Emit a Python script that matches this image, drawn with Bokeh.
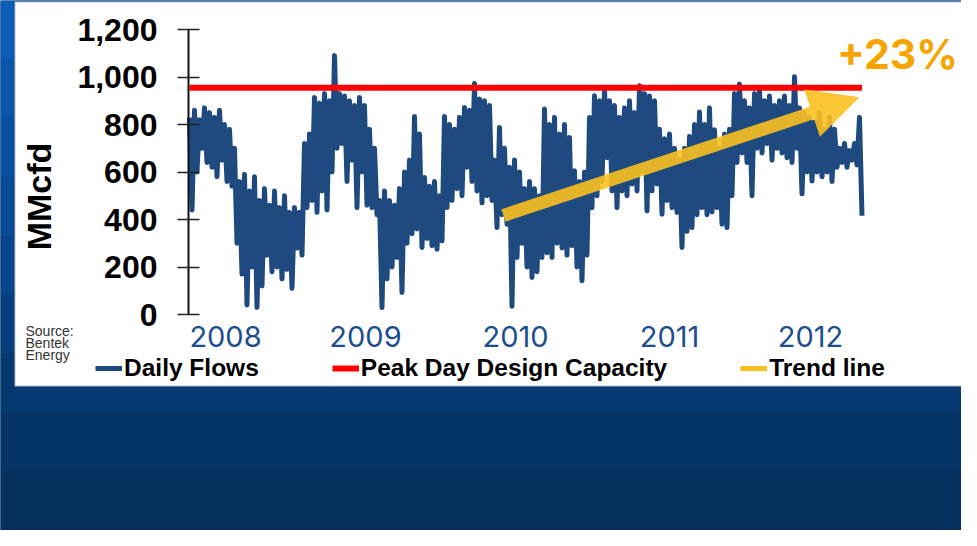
import numpy as np
from bokeh.plotting import figure
from bokeh.models import (Range1d, LinearAxis, FixedTicker, NumeralTickFormatter, Label,
                          Legend, LegendItem, Arrow, NormalHead, BoxAnnotation, ColumnDataSource)
from bokeh.embed import file_html
from bokeh.resources import INLINE

# ------------------------------------------------------------------ data
# Daily flows (MMcfd), read off the picture as alternating highs / lows
daily_flows = [
    830, 440, 860, 600, 820, 700, 870, 640, 850, 620,
    830, 580, 860, 650, 800, 560, 780, 540, 700, 300,
    560, 170, 590, 40, 520, 200, 580, 30, 480, 120,
    530, 250, 460, 180, 520, 200, 450, 150, 500, 190,
    430, 110, 450, 280, 430, 250, 720, 450, 760, 480,
    914, 430, 890, 520, 930, 440, 900, 600, 1090, 700,
    930, 720, 920, 560, 900, 650, 880, 450, 914, 600,
    880, 460, 780, 450, 700, 420, 480, 29, 520, 150,
    480, 200, 460, 240, 530, 93, 600, 300, 650, 340,
    834, 360, 760, 282, 577, 320, 540, 290, 560, 275,
    500, 310, 834, 450, 800, 480, 780, 530, 830, 500,
    872, 620, 860, 560, 973, 520, 907, 470, 900, 500,
    880, 480, 650, 366, 787, 420, 700, 380, 620, 35,
    651, 240, 600, 300, 530, 200, 560, 156, 530, 180,
    500, 240, 865, 260, 800, 240, 830, 300, 760, 280,
    800, 250, 745, 290, 605, 200, 560, 142, 600, 250,
    829, 450, 921, 500, 900, 560, 949, 660, 900, 520,
    880, 450, 830, 520, 870, 500, 900, 549, 850, 520,
    963, 600, 930, 436, 920, 520, 900, 550, 780, 422,
    740, 480, 760, 450, 700, 430, 650, 282, 700, 350,
    750, 366, 800, 420, 853, 450, 800, 420, 870, 432,
    778, 450, 700, 380, 760, 366, 780, 500, 930, 640,
    970, 680, 900, 640, 870, 500, 930, 700, 942, 680,
    900, 720, 920, 650, 880, 700, 900, 680, 920, 660,
    880, 640, 1001, 700, 870, 508, 850, 600, 830, 562,
    810, 600, 850, 580, 780, 600, 830, 560, 780, 620,
    700, 640, 720, 620, 690, 650, 720, 630, 830, 416,
]
capacity = 955                       # Peak Day Design Capacity
trend_x = [125.6, 268.0]             # sample index of trend start / arrow tip
trend_y = [417, 915]                 # MMcfd
trend_pct = "+23%"
year_labels = ["2008", "2009", "2010", "2011", "2012"]
y_ticks = [0, 200, 400, 600, 800, 1000, 1200]
series_names = ["Daily Flows", "Peak Day Design Capacity", "Trend line"]
source_lines = ["Source:", "Bentek", "Energy"]
y_title = "MMcfd"

# ------------------------------------------------------------------ layout helpers
W, H = 961, 530          # canvas (page has 8px margin)
OX, OY = 8, 8
X0, DX = 197, 2.5        # screen px of first sample, px per sample
Y0, YS = 322, 285 / 1200 # screen px of value 0, px per MMcfd


def vx(px):
    return (px - X0) / DX


def vy(py):
    return (Y0 - py) / YS


year_label_px = [233, 373, 523, 677, 818]

NAVY = "#1f4a80"
RED = "#ff0000"
YEL = "#f9c01f"
ORANGE = "#f7a400"

p = figure(width=W, height=H,
           x_range=Range1d(vx(OX), vx(OX + W)), y_range=Range1d(vy(OY + H), vy(OY)),
           output_backend="svg", toolbar_location=None,
           x_axis_location=None, y_axis_location=None, min_border=0,
           outline_line_color=None,
           background_fill_color="#06305c", border_fill_color="#06305c")
p.grid.visible = False

# background gradient (slide)
band_colors = ["#0b5cb4", "#0a56aa", "#0a50a0", "#094a95", "#08448a",
               "#073e7e", "#063972", "#053467", "#05305e"]
edges = np.linspace(OY, OY + H, len(band_colors) + 1)
for c, t, b in zip(band_colors, edges[:-1], edges[1:]):
    p.add_layout(BoxAnnotation(left=vx(OX) - 10, right=vx(OX + W) + 10, top=vy(t), bottom=vy(b),
                               fill_color=c, fill_alpha=1, line_color=None, level="underlay"))

# white chart panel
p.add_layout(BoxAnnotation(left=vx(22), right=vx(OX + W) + 10, top=vy(9), bottom=vy(394),
                           fill_color="white", fill_alpha=1, line_color="#0b2d5a",
                           line_width=2, level="underlay"))

# ------------------------------------------------------------------ series
xs = np.arange(len(daily_flows))
src = ColumnDataSource(dict(x=xs, y=daily_flows))
r_flow = p.line("x", "y", source=src, line_color=NAVY, line_width=5, line_join="round")
r_cap = p.line([xs[0], xs[-1]], [capacity, capacity], line_color=RED, line_width=6)

arrow = Arrow(x_start=trend_x[0], y_start=trend_y[0], x_end=trend_x[1], y_end=trend_y[1],
              line_color=YEL, line_width=13, line_alpha=0.9,
              end=NormalHead(size=50, fill_color=YEL, fill_alpha=0.9, line_color=None))
p.add_layout(arrow)
r_trend = p.line([np.nan, np.nan], [np.nan, np.nan], line_color=YEL, line_width=5)

p.add_layout(Label(x=vx(905), y=vy(61), text=trend_pct, text_font="Inter",
                   text_font_size="41px", text_font_style="bold", text_color=ORANGE,
                   text_align="center", text_baseline="middle"))

# ------------------------------------------------------------------ axes
yax = LinearAxis(fixed_location=vx(196), bounds=(0, 1200), ticker=FixedTicker(ticks=y_ticks),
                 formatter=NumeralTickFormatter(format="0,0"))
yax.axis_line_color = "#111111"
yax.axis_line_width = 2
yax.major_tick_line_color = "#222222"
yax.major_tick_line_width = 1.5
yax.major_tick_in = 11
yax.major_tick_out = 11
yax.minor_tick_line_color = None
yax.major_label_standoff = 20
yax.major_label_text_font = "Liberation Sans"
yax.major_label_text_font_size = "32px"
yax.major_label_text_font_style = "bold"
yax.major_label_text_color = "black"
p.add_layout(yax, "left")

year_ticks = [round(vx(px), 3) for px in year_label_px]
xax = LinearAxis(fixed_location=vy(322), ticker=FixedTicker(ticks=year_ticks),
                 major_label_overrides={t: lab for t, lab in zip(year_ticks, year_labels)})
xax.axis_line_color = None
xax.major_tick_line_color = None
xax.minor_tick_line_color = None
xax.major_label_standoff = 5
xax.major_label_text_font = "Inter"
xax.major_label_text_font_size = "29px"
xax.major_label_text_color = "#1d4e8e"
p.add_layout(xax, "below")

p.add_layout(Label(x=vx(46), y=vy(204), text=y_title, angle=np.pi / 2,
                   text_align="center", text_baseline="middle",
                   text_font="Liberation Sans", text_font_size="34px",
                   text_font_style="bold", text_color="black"))

for k, line in enumerate(source_lines):
    p.add_layout(Label(x=vx(33), y=vy(338 + 12 * k), text=line,
                       text_font="Liberation Sans", text_font_size="14px",
                       text_color="#333333", text_baseline="middle"))

# ------------------------------------------------------------------ legend
legend = Legend(items=[LegendItem(label=series_names[0], renderers=[r_flow]),
                       LegendItem(label=series_names[1], renderers=[r_cap]),
                       LegendItem(label=series_names[2], renderers=[r_trend])],
                location=(103 - OX, OY + H - 389.5), orientation="horizontal",
                padding=0, margin=0, spacing=73, glyph_width=27, glyph_height=20,
                label_height=28, label_standoff=2,
                label_text_font="Liberation Sans", label_text_font_size="24.5px",
                label_text_font_style="bold", label_text_color="black",
                background_fill_alpha=0, border_line_color=None)
p.add_layout(legend)

open("out.html", "w").write(file_html(p, INLINE))
